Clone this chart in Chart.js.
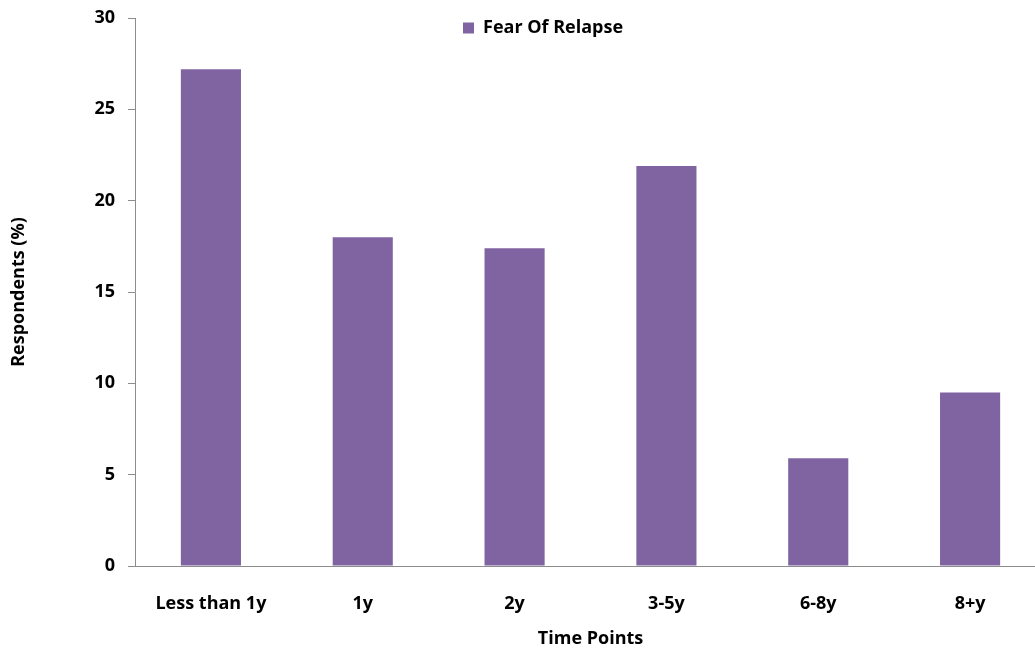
<!DOCTYPE html>
<html>
<head>
<meta charset="utf-8">
<script src="https://cdn.jsdelivr.net/npm/chart.js@4"></script>
<style>
  html, body { margin: 0; padding: 0; background: #ffffff; }
  #wrap { width: 1035px; height: 650px; overflow: hidden; position: relative; }
  #chart { display: block; }
</style>
</head>
<body>
<div id="wrap"><canvas id="chart" width="1046" height="650"></canvas></div>
<script>
// Categories and the share of respondents (%) reporting fear of relapse
const categories = ['Less than 1y', '1y', '2y', '3-5y', '6-8y', '8+y'];
const fearOfRelapse = [27.2, 18.0, 17.4, 21.9, 5.9, 9.5];
const yTicks = [0, 5, 10, 15, 20, 25, 30];

const barColor = '#8064A2';
const axisColor = '#8c8c8c';
const textColor = '#000000';
const fontFamily = '"Open Sans", Lato, "DejaVu Sans", sans-serif';

// Puts the legend inside the plot area, just above the tallest bars
const legendPlacement = {
  id: 'legendPlacement',
  afterLayout(chart) {
    const lg = chart.legend;
    if (!lg) return;
    const pad = lg.options.labels.padding;
    lg.left = 463 - pad;
    lg.right = lg.left + 400;
    lg.width = 400;
    lg.top = 28 - pad - 9;
    lg.bottom = lg.top + 40;
    lg.height = 40;
  }
};

new Chart(document.getElementById('chart'), {
  type: 'bar',
  data: {
    labels: categories,
    datasets: [{
      label: 'Fear Of Relapse',
      data: fearOfRelapse,
      backgroundColor: barColor,
      borderWidth: 0,
      barPercentage: 0.396,
      categoryPercentage: 1.0
    }]
  },
  options: {
    responsive: false,
    animation: false,
    layout: { padding: { top: 18, left: 0, right: 0, bottom: 0 } },
    plugins: {
      tooltip: { enabled: false },
      legend: {
        position: 'chartArea',
        align: 'start',
        labels: {
          boxWidth: 11,
          boxHeight: 11,
          padding: 10,
          color: textColor,
          font: { family: fontFamily, size: 18, weight: 'bold' }
        }
      }
    },
    scales: {
      x: {
        grid: { display: true, drawOnChartArea: false, drawTicks: false },
        border: { display: true, color: axisColor, width: 1 },
        ticks: {
          padding: 27,
          color: textColor,
          font: { family: fontFamily, size: 18, weight: 'bold' }
        },
        title: {
          display: true,
          text: 'Time Points',
          color: textColor,
          font: { family: fontFamily, size: 18, weight: 'bold' },
          padding: { top: 0, bottom: 0 }
        },
        afterFit(scale) { scale.height = 84; }
      },
      y: {
        min: 0,
        max: 30,
        afterBuildTicks(scale) { scale.ticks = yTicks.map(v => ({ value: v })); },
        grid: { display: true, drawOnChartArea: false, drawTicks: true, tickLength: 7, color: axisColor },
        border: { display: true, color: axisColor, width: 1 },
        ticks: {
          padding: 13,
          color: textColor,
          font: { family: fontFamily, size: 18, weight: 'bold' }
        },
        title: {
          display: true,
          text: 'Respondents (%)',
          color: textColor,
          font: { family: fontFamily, size: 18, weight: 'bold' },
          padding: { top: 8, bottom: 0 }
        },
        afterFit(scale) {
          scale.width = 135;
          scale.paddingTop = 0;
          scale.paddingBottom = 0;
        }
      }
    }
  },
  plugins: [legendPlacement]
});
</script>
</body>
</html>
